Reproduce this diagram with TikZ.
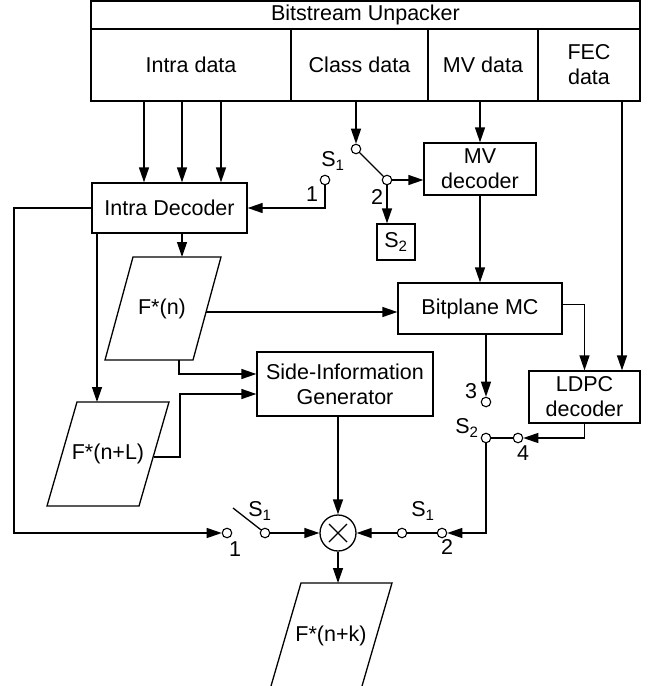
\documentclass[tikz,border=0pt]{standalone}
\usepackage{fontspec}
\setmainfont{Liberation Sans}
\usetikzlibrary{arrows.meta}
\newcommand\lab{\fontsize{21.5}{25}\selectfont}
\begin{document}
\begin{tikzpicture}[x=1pt,y=-1pt,line width=1.3pt,
  box/.style={draw,rectangle,inner sep=0pt,align=center,font=\lab},
  term/.style={draw,circle,fill=white,minimum size=9.5pt,inner sep=0pt,line width=1.1pt},
  txt/.style={inner sep=0pt,font=\lab,align=center},
  arr/.style={-{Triangle[length=15pt,width=10pt]}}]
\useasboundingbox (0,0) rectangle (649,686);
% unpacker
\node[box,minimum width=549pt,minimum height=28pt] (title) at (365.5,15) {Bitstream Unpacker};
\node[box,minimum width=200pt,minimum height=72pt] (intra) at (191,65) {Intra data};
\node[box,minimum width=137pt,minimum height=72pt] (class) at (359.5,65) {Class data};
\node[box,minimum width=110pt,minimum height=72pt] (mv) at (483,65) {MV data};
\node[box,minimum width=102pt,minimum height=72pt] (fec) at (589,65) {FEC\\data};
% blocks
\node[box,minimum width=155pt,minimum height=50pt] (intradec) at (169.5,208) {Intra Decoder};
\node[box,minimum width=112pt,minimum height=52pt] (mvdec) at (480,169) {MV\\decoder};
\node[box,minimum width=38pt,minimum height=36pt] (s2box) at (396,242) {S\textsubscript{2}};
\node[box,minimum width=164pt,minimum height=51pt] (bitmc) at (480,308.5) {Bitplane MC};
\node[box,minimum width=176pt,minimum height=64pt] (sig) at (345,384) {Side-Information\\Generator};
\node[box,minimum width=111pt,minimum height=52pt] (ldpc) at (584.5,397) {LDPC\\decoder};
\node[draw,circle,minimum size=36pt,inner sep=0pt] (mult) at (338,533) {};
\draw (mult.center) ++(-9,-9) -- ++(18,18);
\draw (mult.center) ++(-9,9) -- ++(18,-18);
% parallelograms
\draw (105,360) -- (133,257) -- (221,257) -- (193,360) -- cycle;
\node[txt] (fn) at (162,309) {F*(n)};
\draw (47,506) -- (77,402) -- (169,402) -- (139,506) -- cycle;
\node[txt] (fnl) at (108,454) {F*(n+L)};
\draw (271,686) -- (301,583) -- (392,583) -- (362,686);
\node[txt] (fnk) at (331,636) {F*(n+k)};
\coordinate (fnin) at (182,257);
\coordinate (fnr) at (206,312);
\coordinate (fnb) at (179,360);
\coordinate (fnlin) at (97,402);
\coordinate (fnlr) at (154,457);
\coordinate (fnlr2) at (180,457);
\coordinate (fnkin) at (338,583);
% terminals
\node[term] (ta) at (356,149) {};
\node[term] (t1) at (325,180) {};
\node[term] (t2) at (387,180) {};
\node[term] (t3) at (486,402) {};
\node[term] (ts2) at (486,438) {};
\node[term] (t4) at (518,438) {};
\node[term] (tl1) at (227,533) {};
\node[term] (tl2) at (265,533) {};
\node[term] (tr1) at (402,533) {};
\node[term] (tr2) at (442,533) {};
\coordinate (bl) at (233,508);
\coordinate (lx) at (14,208);
% labels
\node[txt] (ls1a) at (333,161) {S\textsubscript{1}};
\node[txt] (l1a) at (312,194) {1};
\node[txt] (l2a) at (377,197) {2};
\node[txt] (l3) at (471,391) {3};
\node[txt] (ls2) at (467,428) {S\textsubscript{2}};
\node[txt] (l4) at (523,453) {4};
\node[txt] (ls1b) at (260,511) {S\textsubscript{1}};
\node[txt] (l1b) at (235,549) {1};
\node[txt] (ls1c) at (423,511) {S\textsubscript{1}};
\node[txt] (l2b) at (447,547) {2};
% connectors
\foreach \dx in {-47,-9,30} {
  \coordinate (ia) at ([xshift=\dx pt]intra.south);
  \draw[arr] (ia) -- (ia |- intradec.north);
}
\draw[arr] (class.south -| ta) -- (ta);
\draw[arr] (mv.south -| mvdec.north) -- (mvdec.north);
\coordinate (fecx) at ([xshift=33pt]fec.south);
\draw[arr] (fecx) -- (fecx |- ldpc.north);
\draw (ta) -- (t2);
\draw[arr] (t1) |- (intradec.east);
\draw[arr] (t2) -- (t2 -| mvdec.west);
\draw[arr] (t2) -- (t2 |- s2box.north);
\draw[arr] (intradec.west) -- (lx) |- (tl1);
\draw[arr] (intradec.south -| fnlin) -- (fnlin);
\draw[arr] (intradec.south -| fnin) -- (fnin);
\draw[arr] (fnr) -- (fnr -| bitmc.west);
\draw[arr] (fnb) |- ([yshift=10pt]sig.west);
\draw[arr] (fnlr) -- (fnlr2) |- ([yshift=-10pt]sig.west);
\draw[arr] (mvdec.south) -- (bitmc.north);
\draw[arr] ([yshift=4pt]bitmc.east) -| (ldpc.north);
\draw[arr] (bitmc.south -| t3) -- (t3);
\draw[arr] (sig.south -| mult.north) -- (mult.north);
\draw[arr] (ldpc.south) |- (t4);
\draw (ts2) -- (t4);
\draw[arr] (ts2) |- (tr2);
\draw (tr2) -- (tr1);
\draw[arr] (tr1) -- (mult);
\draw (bl) -- (tl2);
\draw[arr] (tl2) -- (mult);
\draw[arr] (mult) -- (fnkin);
\end{tikzpicture}
\end{document}
